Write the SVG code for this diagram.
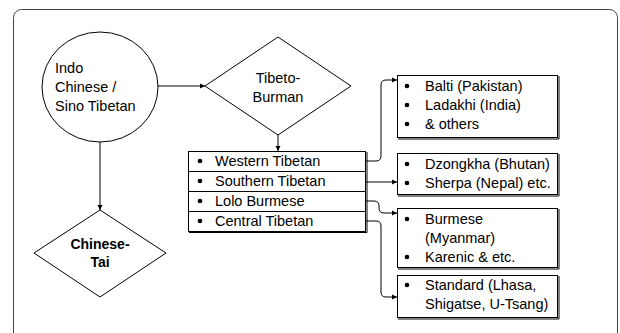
<svg xmlns="http://www.w3.org/2000/svg" width="620" height="333" viewBox="0 0 620 333">
<defs>
<marker id="ah" markerWidth="6" markerHeight="6" refX="5" refY="3" orient="auto" markerUnits="userSpaceOnUse">
<path d="M0,0.5 L5,3 L0,5.5 Z" fill="#000"/>
</marker>
<style>
text { font-family: "Liberation Sans", Arial, sans-serif; font-size: 14.5px; fill: #000; }
.b { font-weight: bold; font-size: 14px; }
.m { text-anchor: middle; }
.s { fill: #fff; stroke: #000; stroke-width: 1; }
.sh { fill: none; stroke: #000; stroke-width: 1; }
.c { fill: none; stroke: #000; stroke-width: 1; marker-end: url(#ah); }
.dot { fill: #000; }
</style>
</defs>
<rect width="620" height="333" fill="#fff"/>
<rect x="13.5" y="9.5" width="604" height="345" rx="8" fill="none" stroke="#444"/>

<g id="connectors">
<path class="c" d="M158,86 H205"/>
<path class="c" d="M278,135 V151"/>
<path class="c" d="M100,142 V210"/>
<path class="c" d="M366,161 H376 Q381,161 381,156 V85 Q381,80 386,80 H397"/>
<path class="c" d="M366,182 H397"/>
<path class="c" d="M366,201 H374 Q379,201 379,206 V208 Q379,213 384,213 H397"/>
<path class="c" d="M366,221 H376 Q381,221 381,226 V292 Q381,297 386,297 H397"/>
</g>

<g id="indo-chinese">
<ellipse class="s" cx="100" cy="87" rx="58" ry="55"/>
<text x="55" y="73">Indo</text>
<text x="55" y="92">Chinese /</text>
<text x="55" y="111">Sino Tibetan</text>
</g>

<g id="tibeto-burman">
<polygon class="s" points="205,86 278,37 351,86 278,135"/>
<text class="m" x="278" y="83">Tibeto-</text>
<text class="m" x="278" y="102">Burman</text>
</g>

<g id="chinese-tai">
<polygon class="s" points="34,253 100,210 166,253 100,297"/>
<text class="m b" x="100" y="249">Chinese-</text>
<text class="m b" x="100" y="267">Tai</text>
</g>

<g id="tibetan-list">
<rect class="s" x="188.5" y="151.5" width="177" height="80"/>
<path class="sh" d="M367,152 V232.5 H189"/>
<path class="sh" d="M188.5,171.5 H365.5 M188.5,191.5 H365.5 M188.5,211.5 H365.5"/>
<circle class="dot" cx="200" cy="161" r="2.3"/>
<text x="215" y="166">Western Tibetan</text>
<circle class="dot" cx="200" cy="181" r="2.3"/>
<text x="215" y="186">Southern Tibetan</text>
<circle class="dot" cx="200" cy="201" r="2.3"/>
<text x="215" y="206">Lolo Burmese</text>
<circle class="dot" cx="200" cy="221" r="2.3"/>
<text x="215" y="226">Central Tibetan</text>
</g>

<g id="western-box">
<rect class="s" x="397.5" y="75.5" width="160" height="62"/>
<path class="sh" d="M559,76 V139 H398"/>
<circle class="dot" cx="407" cy="86" r="2.3"/>
<text x="425" y="91">Balti (Pakistan)</text>
<circle class="dot" cx="407" cy="105" r="2.3"/>
<text x="425" y="110">Ladakhi (India)</text>
<circle class="dot" cx="407" cy="124" r="2.3"/>
<text x="425" y="129">&amp; others</text>
</g>

<g id="southern-box">
<rect class="s" x="397.5" y="153.5" width="160" height="41"/>
<path class="sh" d="M559,154 V196 H398"/>
<circle class="dot" cx="407" cy="164" r="2.3"/>
<text x="425" y="169">Dzongkha (Bhutan)</text>
<circle class="dot" cx="407" cy="183" r="2.3"/>
<text x="425" y="188">Sherpa (Nepal) etc.</text>
</g>

<g id="lolo-box">
<rect class="s" x="397.5" y="208.5" width="160" height="59"/>
<path class="sh" d="M559,209 V269 H398"/>
<circle class="dot" cx="407" cy="219" r="2.3"/>
<text x="425" y="224">Burmese</text>
<text x="425" y="243">(Myanmar)</text>
<circle class="dot" cx="407" cy="257" r="2.3"/>
<text x="425" y="262">Karenic &amp; etc.</text>
</g>

<g id="central-box">
<rect class="s" x="397.5" y="275.5" width="160" height="42"/>
<path class="sh" d="M559,276 V319 H398"/>
<circle class="dot" cx="407" cy="285" r="2.3"/>
<text x="425" y="290">Standard (Lhasa,</text>
<text x="425" y="309">Shigatse, U-Tsang)</text>
</g>
</svg>
